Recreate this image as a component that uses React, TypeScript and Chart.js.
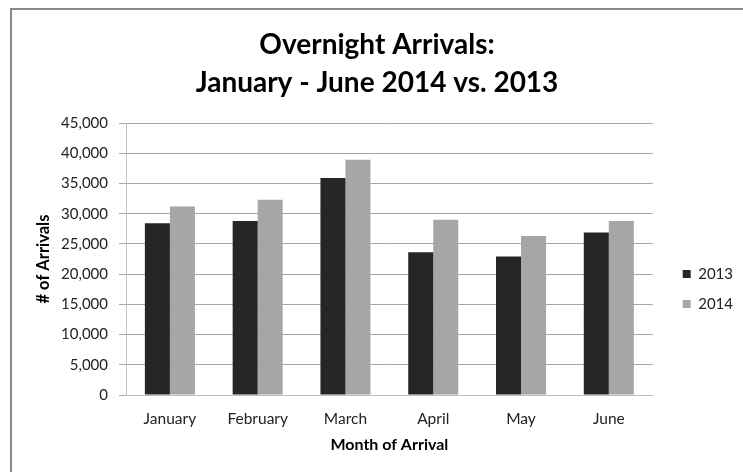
import React, { useEffect, useRef } from "react";
import { Chart, registerables } from "chart.js";

Chart.register(...registerables);

const months = ["January", "February", "March", "April", "May", "June"];
const arrivals2013 = [28400, 28800, 35900, 23600, 22900, 26900];
const arrivals2014 = [31200, 32300, 38900, 29000, 26300, 28800];
const seriesLabels = ["2013", "2014"];
const titleLines = ["Overnight Arrivals:", "January - June 2014 vs. 2013"];
const yTitle = "# of Arrivals";
const xTitle = "Month of Arrival";
const yMin = 0;
const yMax = 45000;
const yStep = 5000;

const FONT = "Lato, 'Open Sans', sans-serif";

export default function App() {
  const canvasRef = useRef<HTMLCanvasElement | null>(null);

  useEffect(() => {
    const canvas = canvasRef.current;
    if (!canvas) return;
    const chart = new Chart(canvas, {
      type: "bar",
      data: {
        labels: months,
        datasets: [
          {
            label: seriesLabels[0],
            data: arrivals2013,
            backgroundColor: "#262626",
            borderWidth: 0,
          },
          {
            label: seriesLabels[1],
            data: arrivals2014,
            backgroundColor: "#a6a6a6",
            borderWidth: 0,
          },
        ],
      },
      options: {
        responsive: false,
        animation: false,
        devicePixelRatio: 1,
        datasets: {
          bar: { categoryPercentage: 0.57, barPercentage: 1.0 },
        },
        layout: { padding: { left: 11, top: 26, right: 0, bottom: 14 } },
        font: { family: FONT },
        plugins: {
          tooltip: { enabled: false },
          title: {
            display: true,
            text: titleLines,
            color: "#000",
            font: { family: FONT, size: 28, weight: "bold", lineHeight: 38 / 28 },
            padding: { top: 0, bottom: 21 },
          },
          legend: {
            display: true,
            position: "right",
            fullSize: false,
            maxWidth: 76,
            title: {
              display: true,
              text: " ",
              font: { family: FONT, size: 10, lineHeight: 1 },
              padding: { top: 50, bottom: 0 },
            },
            labels: {
              boxWidth: 8,
              boxHeight: 8,
              padding: 15,
              color: "#222",
              font: { family: FONT, size: 15 },
            },
          },
        },
        scales: {
          x: {
            afterFit: (scale: any) => {
              scale.height = 63;
            },
            grid: { display: false, drawTicks: false },
            border: { display: true, color: "#bfbfbf", width: 1 },
            ticks: {
              padding: 15,
              color: "#222",
              font: { family: FONT, size: 15.5 },
              maxRotation: 0,
            },
            title: {
              display: true,
              text: xTitle,
              color: "#000",
              font: { family: FONT, size: 16, weight: "bold" },
              padding: { top: 8, bottom: 4 },
            },
          },
          y: {
            min: yMin,
            max: yMax,
            afterFit: (scale: any) => {
              scale.width = 115;
            },
            grid: { color: "#a6a6a6", tickLength: 7, lineWidth: 1 },
            border: { display: true, color: "#bfbfbf", width: 1 },
            ticks: {
              stepSize: yStep,
              padding: 11,
              color: "#222",
              font: { family: FONT, size: 15 },
              callback: (v: any) => Number(v).toLocaleString("en-US"),
            },
            title: {
              display: true,
              text: yTitle,
              color: "#000",
              font: { family: FONT, size: 16.5, weight: "bold" },
              padding: { top: 23, bottom: 0 },
            },
          },
          gap: {
            type: "linear",
            position: "right",
            display: true,
            grid: { display: false, drawTicks: false },
            border: { display: false },
            ticks: { display: false },
            afterFit: (scale: any) => {
              scale.width = 15;
            },
          },
        },
      },
    } as any);
    return () => chart.destroy();
  }, []);

  return (
    <div
      style={{
        position: "absolute",
        left: 0,
        top: 0,
        width: 743,
        height: 472,
        background: "#fff",
        overflow: "hidden",
      }}
    >
      <div
        style={{
          position: "absolute",
          left: 10,
          top: 8,
          width: 800,
          height: 600,
          borderLeft: "2px solid #8a8a8a",
          borderTop: "2px solid #8a8a8a",
          boxSizing: "border-box",
        }}
      />
      <canvas
        ref={canvasRef}
        width={743}
        height={472}
        style={{ position: "absolute", left: 0, top: 0, width: 743, height: 472 }}
      />
    </div>
  );
}
